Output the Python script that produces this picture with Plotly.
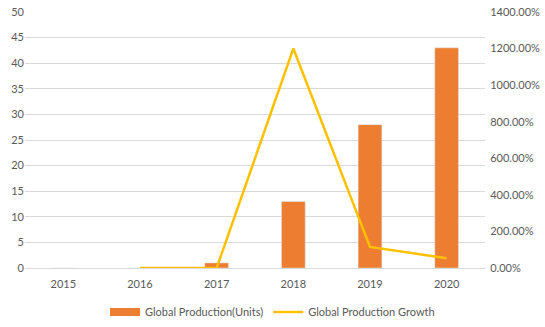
import plotly.graph_objects as go

years = ["2015", "2016", "2017", "2018", "2019", "2020"]
production = [0, 0, 1, 13, 28, 43]
growth = [None, 0.0, 0.0, 12.0, 1.154, 0.536]

fig = go.Figure()
fig.add_trace(go.Bar(x=years, y=production, name="Global Production(Units)",
                     marker_color="#ED7D31", width=0.31, yaxis="y", showlegend=False))
# legend-only entry mimicking a wide rectangle swatch
fig.add_trace(go.Scatter(x=[None], y=[None], name="Global Production(Units)",
                         mode="lines", line=dict(color="#ED7D31", width=8)))
fig.add_trace(go.Scatter(x=years, y=growth, name="Global Production Growth",
                         mode="lines", line=dict(color="#FFC000", width=2.5),
                         yaxis="y2", connectgaps=False))

font = dict(family="Lato, Open Sans, sans-serif", size=11, color="#595959")
fig.update_layout(
    width=545, height=327,
    margin=dict(l=25, r=60, t=12, b=59, autoexpand=False),
    plot_bgcolor="white", paper_bgcolor="white",
    font=font,
    xaxis=dict(type="category", showgrid=False, showline=True, linecolor="#D9D9D9",
               ticks="outside", ticklen=6, tickcolor="rgba(0,0,0,0)", tickfont=font),
    yaxis=dict(range=[0, 50], dtick=5, showgrid=True, gridcolor="#D9D9D9",
               zeroline=False, ticks="", tickfont=font),
    yaxis2=dict(range=[0, 14], dtick=2, overlaying="y", side="right",
                showgrid=False, zeroline=False, tickformat=".2%", tickfont=font,
                ticks="outside", ticklen=2, tickcolor="rgba(0,0,0,0)"),
    legend=dict(orientation="h", xref="container", x=0.5, xanchor="center",
                y=-0.115, yanchor="top", font=font, itemwidth=30, tracegroupgap=0),
)
fig.write_html("out.html")
